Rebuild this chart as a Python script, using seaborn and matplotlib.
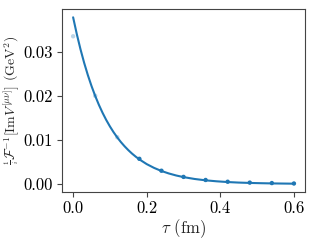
import matplotlib
matplotlib.use("Agg")
import matplotlib.pyplot as plt
import seaborn as sns
import numpy as np
import pandas as pd

# data points (lattice)
tau_pts = [0.00, 0.06, 0.12, 0.18, 0.24, 0.30, 0.36, 0.42, 0.48, 0.54, 0.60]
val_pts = [0.0335, 0.0200, 0.0106, 0.0057, 0.0030, 0.0016, 0.0009, 0.0005, 0.0003, 0.0002, 0.0001]
excluded = [True, True, True, False, False, False, False, False, False, False, False]

# fitted curve
tau_fit = [0.00, 0.01, 0.02, 0.03, 0.04, 0.05, 0.06, 0.07, 0.08, 0.09, 0.10,
           0.11, 0.12, 0.13, 0.14, 0.15, 0.16, 0.17, 0.18, 0.20, 0.22, 0.24,
           0.26, 0.28, 0.30, 0.33, 0.36, 0.39, 0.42, 0.45, 0.48, 0.51, 0.54,
           0.57, 0.60]
val_fit = [0.03780, 0.03399, 0.03056, 0.02747, 0.02470, 0.02221, 0.01997, 0.01795,
           0.01614, 0.01451, 0.01305, 0.01173, 0.01055, 0.00948, 0.00853, 0.00767,
           0.00689, 0.00620, 0.00557, 0.00450, 0.00364, 0.00294, 0.00238, 0.00192,
           0.00155, 0.00113, 0.00082, 0.00060, 0.00043, 0.00031, 0.00023, 0.00017,
           0.00012, 0.00009, 0.00006]

sns.set_style("ticks")
plt.rcParams.update({
    "font.family": "serif",
    "font.serif": ["cmr10", "DejaVu Serif"],
    "mathtext.fontset": "cm",
    "axes.formatter.use_mathtext": True,
    "axes.edgecolor": "#444444",
    "xtick.color": "#444444",
    "ytick.color": "#444444",
    "xtick.labelcolor": "black",
    "ytick.labelcolor": "black",
})

fig = plt.figure(figsize=(3.2, 2.4), dpi=100)
ax = fig.add_axes([0.194, 0.2, 0.759, 0.7625])

df_pts = pd.DataFrame({"tau": tau_pts, "val": val_pts, "excl": excluded})
df_fit = pd.DataFrame({"tau": tau_fit, "val": val_fit})

blue = "#1f77b4"
sns.lineplot(data=df_fit, x="tau", y="val", ax=ax, color=blue, lw=1.5)
sns.scatterplot(data=df_pts[df_pts.excl], x="tau", y="val", ax=ax,
                color=blue, alpha=0.3, s=10, edgecolor="none", zorder=3)
sns.scatterplot(data=df_pts[~df_pts.excl], x="tau", y="val", ax=ax,
                color=blue, s=10, edgecolor="none", zorder=3)

ax.set_xticks([0.0, 0.2, 0.4, 0.6])
ax.set_xticklabels(["0.0", "0.2", "0.4", "0.6"])
ax.set_yticks([0.00, 0.01, 0.02, 0.03])
ax.set_yticklabels(["0.00", "0.01", "0.02", "0.03"])
ax.tick_params(labelsize=12, pad=3)
ax.set_xlabel(r"$\tau$ (fm)", fontsize=12, labelpad=1)
ax.set_ylabel(r"$\genfrac{}{}{0.5}{2}{1}{i}\mathcal{F}^{-1}[\mathrm{Im}V^{[\mu\nu]}]$ (GeV$^2$)",
              fontsize=10, labelpad=2)

fig.savefig("out.png", dpi=100)
